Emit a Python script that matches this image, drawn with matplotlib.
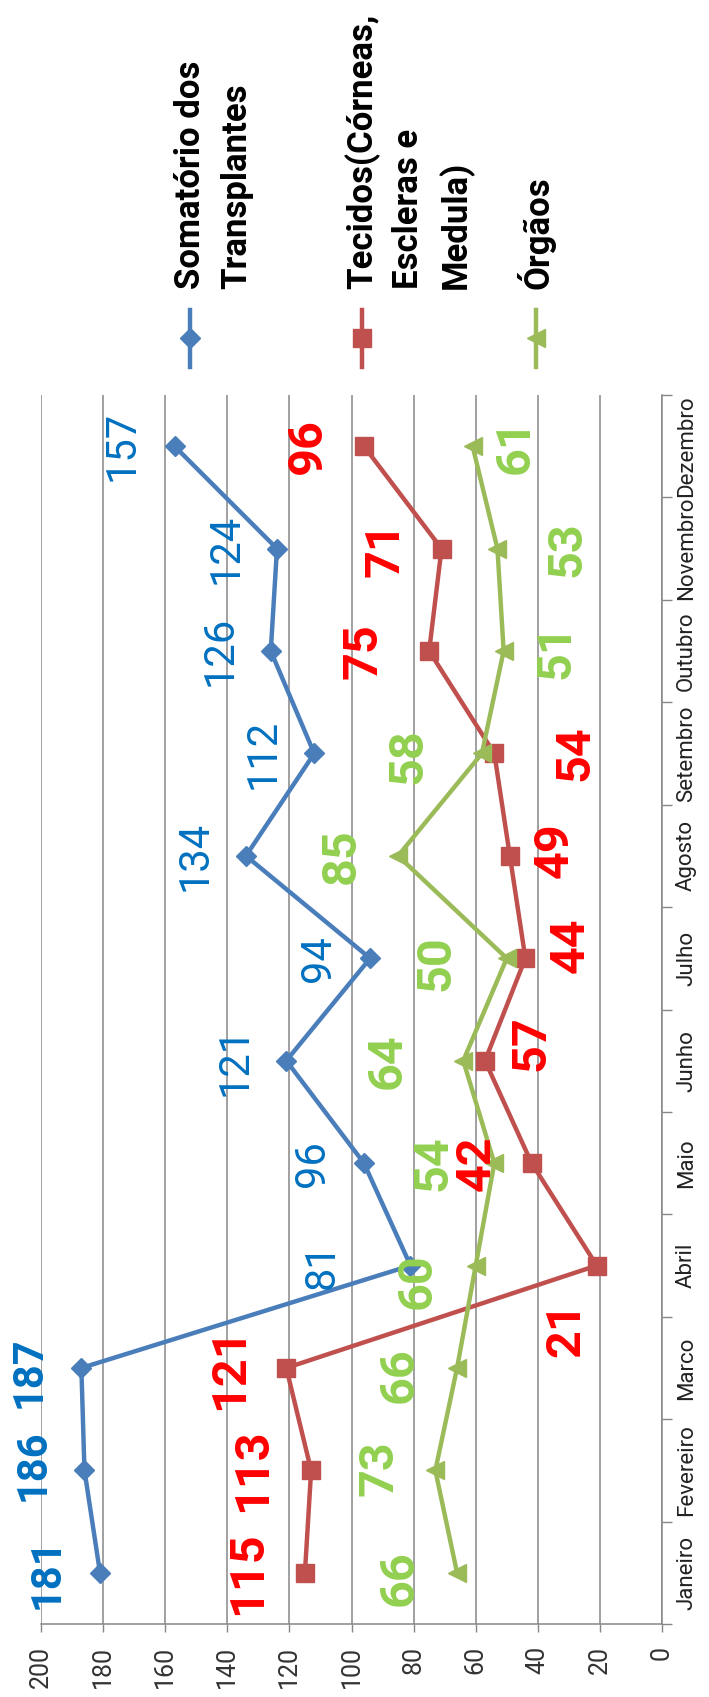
import matplotlib.pyplot as plt
from matplotlib.lines import Line2D
import numpy as np

plt.rcParams['font.family'] = ['Roboto', 'DejaVu Sans']

# ---------------- DATA ----------------
meses = ["Janeiro", "Fevereiro", "Marco", "Abril", "Maio", "Junho",
         "Julho", "Agosto", "Setembro", "Outubro", "Novembro", "Dezembro"]
somatorio = [181, 186, 187, 81, 96, 121, 94, 134, 112, 126, 124, 157]
tecidos = [115, 113, 121, 21, 42, 57, 44, 49, 54, 75, 71, 96]
orgaos = [66, 73, 66, 60, 54, 64, 50, 85, 58, 51, 53, 61]
valores_eixo = [0, 20, 40, 60, 80, 100, 120, 140, 160, 180, 200]

nomes = [["Somatório dos", "Transplantes"],
         ["Tecidos(Córneas,", "Escleras e", "Medula)"],
         ["Órgãos"]]

# label offsets from the marker, in pixels (chart is drawn rotated)
off_som = [(-53, 0), (-51, 5), (-52, -4), (-88, 0), (-51, 0), (-51, 0),
           (-52, 0), (-51, 0), (-51, 0), (-51, 0), (-51, 0), (-52, 0)]
off_tec = [(-57, 0), (-58, 0), (-56, 0), (-30, -64), (-55, 0), (46, 18),
           (45, 13), (45, 6), (81, 0), (-66, 0), (-56, 0), (-56, 0)]
off_org = [(-57, -5), (-56, 2), (-57, -7), (-58, -16), (-61, 0), (-76, 0),
           (-70, -5), (-56, 0), (-73, -3), (53, 0), (70, 0), (43, 0)]

W, H = 709, 1697
fig = plt.figure(figsize=(W / 100, H / 100), dpi=100)

# plot area in pixel coords of the picture
left, right, top, bottom = 41, 662, 395, 1624
ax = fig.add_axes([left / W, 1 - bottom / H, (right - left) / W, (bottom - top) / H])

grid_col = '#868686'
series = [
    (somatorio, '#4A7EBB', 'D', 10, '#0070C0', off_som),
    (tecidos, '#C0504D', 's', 13, '#FF0000', off_tec),
    (orgaos, '#9BBB59', '<', 13, '#92D050', off_org),
]

y = np.arange(len(meses))
for vals, cor, mk, ms, cor_txt, offs in series:
    ax.plot(vals, y, color=cor, lw=3.2, marker=mk, markersize=ms,
            markeredgecolor=cor, markerfacecolor=cor, zorder=3)

for k, (vals, cor, mk, ms, cor_txt, offs) in enumerate(series):
    for i, v in enumerate(vals):
        bold = k > 0 or i < 3
        ax.annotate(str(v), (v, y[i]), xytext=offs[i], textcoords='offset pixels',
                    ha='center', va='center', rotation=90, color=cor_txt,
                    fontsize=35 if k > 0 else 30,
                    fontweight='bold' if bold else 'normal', zorder=5)

# value axis (drawn along the bottom, reversed)
ax.set_xlim(200, 0)
ax.set_xticks(valores_eixo)
ax.set_xticklabels([str(v) for v in valores_eixo], rotation=90, fontsize=18,
                   color='#333333')
ax.tick_params(axis='x', direction='out', length=6, width=1, color=grid_col, pad=10)
ax.grid(axis='x', color=grid_col, lw=1.1)
ax.set_axisbelow(True)

# category axis (drawn along the right side)
ax.set_ylim(-0.5, len(meses) - 0.5)
ax.yaxis.tick_right()
ax.set_yticks(np.arange(len(meses) + 1) - 0.5)
ax.set_yticklabels([])
ax.set_yticks(y, minor=True)
ax.set_yticklabels(meses, minor=True, rotation=90, va='center', ha='left',
                   fontsize=16, color='#222222')
ax.tick_params(axis='y', which='major', direction='out', length=7, width=1,
               color=grid_col)
ax.tick_params(axis='y', which='minor', length=0, pad=10)

for s in ['top', 'left']:
    ax.spines[s].set_visible(False)
for s in ['bottom', 'right']:
    ax.spines[s].set_color(grid_col)
    ax.spines[s].set_linewidth(1.1)

# ---------------- LEGEND (rotated, at the top) ----------------
leg_x = [190, 362, 536]
for (vals, cor, mk, ms, cor_txt, offs), linhas, lx in zip(series, nomes, leg_x):
    fx = lx / W
    fig.add_artist(Line2D([fx, fx], [1 - 310 / H, 1 - 367 / H], color=cor, lw=3.2,
                          transform=fig.transFigure))
    fig.add_artist(Line2D([fx], [1 - 338 / H], color=cor, marker=mk, markersize=ms,
                          transform=fig.transFigure))
    for j, txt in enumerate(linhas):
        fig.text((lx + 47 * j) / W, 1 - 289 / H, txt, rotation=90, ha='center',
                 va='bottom', fontsize=25, fontweight='bold', color='black')

fig.savefig("out.png", dpi=100)
